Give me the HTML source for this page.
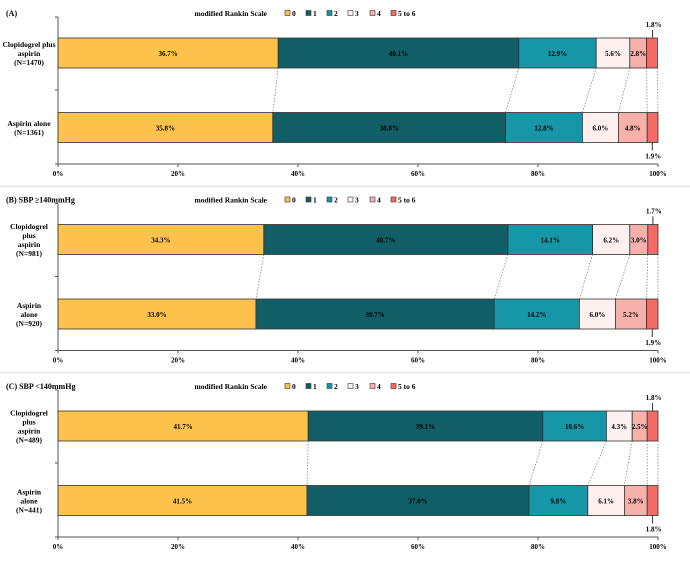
<!DOCTYPE html>
<html><head><meta charset="utf-8"><style>
body{margin:0;background:#fff;}
svg{display:block;font-family:"Liberation Serif",serif;font-weight:bold;}
</style></head><body>
<svg id="chart" width="690" height="561" viewBox="0 0 690 561"></svg>
<script>
const panelTitles=["(A)","(B)  SBP \u2265140mmHg","(C)  SBP <140mmHg"];
const groupLabels=[
 [["Clopidogrel plus","aspirin","(N=1470)"],["Aspirin alone","(N=1361)"]],
 [["Clopidogrel","plus","aspirin","(N=981)"],["Aspirin","alone","(N=920)"]],
 [["Clopidogrel","plus","aspirin","(N=489)"],["Aspirin","alone","(N=441)"]]];
const clopiValues=[[36.7,40.1,12.9,5.6,2.8,1.8],[34.3,40.7,14.1,6.2,3.0,1.7],[41.7,39.1,10.6,4.3,2.5,1.8]];
const aspirinValues=[[35.8,38.8,12.8,6.0,4.8,1.9],[33.0,39.7,14.2,6.0,5.2,1.9],[41.5,37.0,9.8,6.1,3.8,1.8]];
const categories=["0","1","2","3","4","5 to 6"];
const tickLabels=[0,20,40,60,80,100];
const colors=["#fcc24c","#115e67","#1696a6","#fdf0ee","#f7b1ab","#f26b65"];
const svg=document.getElementById('chart');
const NS="http://www.w3.org/2000/svg";
function mk(t,a,p){const e=document.createElementNS(NS,t);for(const k in a)e.setAttribute(k,a[k]);(p||svg).appendChild(e);return e;}
const x=v=>58+Math.min(v,100)*6.0;
for(let p=0;p<3;p++){
 const o=p*186.5;
 const g=mk('g',{});
 
 
 if(p>0){const s=mk('rect',{x:0,y:o-1.5,width:690,height:2.5,fill:'#eeeeee'},g);}
 let t=mk('text',{x:6,y:o+16,'font-size':8},g);t.textContent=panelTitles[p];
 
 t=mk('text',{x:267,y:o+16,'font-size':7.5,'text-anchor':'end'},g);t.textContent="modified Rankin Scale";
 
 const lx=[285,306,327,348,370,391];
 categories.forEach((c,i)=>{const lg=mk('g',{},g);
  
  mk('rect',{x:lx[i],y:o+10.5,width:5,height:5,fill:colors[i],stroke:'#333','stroke-width':0.6},lg);
  const tt=mk('text',{x:lx[i]+7,y:o+16,'font-size':7.5},lg);tt.textContent=c;});
 const axY=o+164, top=o+17;
 let l=mk('line',{x1:58,y1:top,x2:58,y2:axY,stroke:'#555','stroke-width':1},g);
 
 l=mk('line',{x1:58,y1:axY,x2:658,y2:axY,stroke:'#555','stroke-width':1},g);
 
 [top,o+90,axY].forEach(yy=>mk('line',{x1:55,y1:yy,x2:58,y2:yy,stroke:'#555'},g));
 tickLabels.forEach(v=>{mk('line',{x1:x(v),y1:axY,x2:x(v),y2:axY+3,stroke:'#555'},g);
  const tt=mk('text',{x:x(v),y:axY+12,'font-size':7,'text-anchor':'middle'},g);tt.textContent=v+"%";
  });
 const rows=[clopiValues[p],aspirinValues[p]];
 const bys=[o+38,o+112.5];
 const cums=[];
 rows.forEach((vals,r)=>{
  const by=bys[r];let c=0;const cum=[0];
  vals.forEach((v,i)=>{
   const rc=mk('rect',{x:x(c),y:by,width:x(c+v)-x(c),height:30,fill:colors[i],stroke:'#333','stroke-width':0.8},g);
   
   
   if(i<5){const tt=mk('text',{x:(x(c)+x(c+v))/2,y:by+18,'font-size':7,'text-anchor':'middle'},g);tt.textContent=v.toFixed(1)+"%";
    }
   c+=v;cum.push(c);});
  cums.push(cum);
  const last=vals[5], mx=(x(100-last)+x(100))/2;
  if(r===0){mk('line',{x1:mx,y1:by-8,x2:mx,y2:by,stroke:'#333'},g);
   const tt=mk('text',{x:mx+1,y:by-11,'font-size':7,'text-anchor':'middle'},g);tt.textContent=last.toFixed(1)+"%";
   }
  else{mk('line',{x1:mx,y1:by+30,x2:mx,y2:by+38,stroke:'#333'},g);
   const tt=mk('text',{x:mx+1,y:by+46,'font-size':7,'text-anchor':'middle'},g);tt.textContent=last.toFixed(1)+"%";
   }
 });
 for(let i=1;i<=6;i++){const cl=mk('line',{x1:x(cums[0][i]),y1:bys[0]+30,x2:x(cums[1][i]),y2:bys[1],stroke:'#777','stroke-width':0.7,'stroke-dasharray':'1.5,1.5'},g);
  }
 groupLabels[p].forEach((lines,r)=>{const cy=bys[r]+15,n=lines.length;
  lines.forEach((s,k)=>{const tt=mk('text',{x:29,y:cy+(k-(n-1)/2)*9+3,'font-size':7.5,'text-anchor':'middle'},g);tt.textContent=s;
   });});
}
</script>
</body></html>
